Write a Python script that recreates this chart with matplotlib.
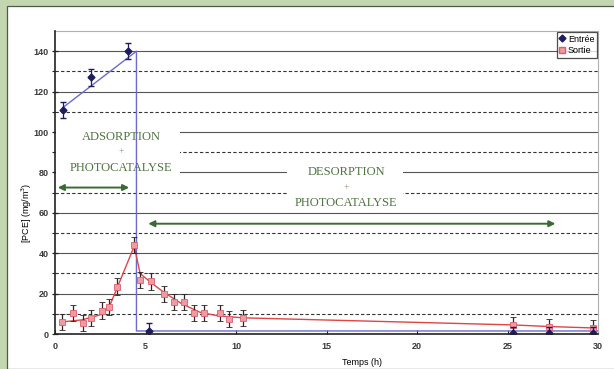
import numpy as np
import matplotlib.pyplot as plt
from matplotlib.patches import Rectangle
from matplotlib.lines import Line2D

# data
entree_t = [0.42, 1.97, 4.05, 5.2, 25.3, 27.3, 29.7]
entree_v = [111, 127, 140, 1.5, 0.5, 0.5, 0.5]
entree_err = [4, 4, 4, 4, 3, 3, 3]

# trend line for the inlet (linear rise, then drop after adsorption phase)
entree_line_t = [0.42, 4.5, 4.5, 30]
entree_line_v = [112, 140, 1.5, 1.5]

sortie_t = [0.40, 1.01, 1.53, 1.99, 2.58, 2.98, 3.44, 4.38, 4.70, 5.29, 6.04,
            6.59, 7.14, 7.68, 8.25, 9.12, 9.63, 10.4, 25.3, 27.3, 29.7]
sortie_v = [6.1, 10.2, 5.6, 7.8, 11.6, 13.2, 23.5, 44.2, 26.8, 26.0, 19.9,
            16.0, 15.7, 10.2, 10.6, 10.2, 7.3, 7.8, 4.5, 3.6, 3.1]
sortie_err = [4] * len(sortie_t)

sortie_fit_t = [0.40, 1.5, 2.5, 3.0, 3.44, 4.38, 4.70, 5.29, 6.04, 7.0, 8.0,
                9.0, 10.4, 25.3, 27.3, 29.7]
sortie_fit_v = [6.0, 7.0, 9.5, 13.5, 23.0, 43.5, 30.0, 25.5, 20.5, 15.0,
                10.8, 9.0, 8.0, 4.5, 3.7, 3.0]

green = '#4f7440'
arrow_green = '#3b6b35'

fig = plt.figure(figsize=(6.14, 3.69), dpi=100)
fig.patch.set_facecolor('#c3d6b0')
fig.patches.append(Rectangle((7 / 614, 0), 1, 1 - 6 / 369, transform=fig.transFigure,
                             facecolor='white', edgecolor='#4d5a45', lw=0.9, zorder=-5))

ax = fig.add_axes([55 / 614, 1 - 334 / 369, 543 / 614, 303 / 369])
ax.set_facecolor('none')
ax.set_xlim(0, 30)
ax.set_ylim(0, 150)

# grid: solid on 20s, dashed on 10s
for v in range(20, 141, 20):
    ax.axhline(v, color='#555555', lw=0.8, zorder=1)
for v in range(10, 131, 20):
    ax.axhline(v, color='#333333', lw=0.8, ls=(0, (3, 2)), zorder=1)

# inlet
ax.plot(entree_line_t, entree_line_v, color='#6b6bd0', lw=1.0, zorder=3)
ax.errorbar(entree_t, entree_v, yerr=entree_err, fmt='D', ms=3.5, color='#1d1d5e',
            ecolor='#1d1d5e', elinewidth=0.9, capsize=2.2, zorder=6)

# outlet
ax.plot(sortie_fit_t, sortie_fit_v, color='#e04545', lw=1.0, zorder=4)
ax.errorbar(sortie_t, sortie_v, yerr=sortie_err, fmt='s', ms=5, mfc='#f29aa2',
            mec='#d9606c', mew=0.6, ecolor='#2e2222', elinewidth=0.9, capsize=2.2,
            zorder=5)

# phase labels with white boxes masking the grid
ax.add_patch(Rectangle((0.05, 77.5), 6.85, 25, facecolor='white', edgecolor='none', zorder=2.5))
ax.add_patch(Rectangle((12.8, 62), 6.4, 25, facecolor='white', edgecolor='none', zorder=2.5))

txt = dict(family='Liberation Serif', color=green, ha='center', va='center', zorder=7)
ax.text(3.65, 97.3, 'ADSORPTION', fontsize=9, **txt)
ax.text(3.65, 90.2, '+', fontsize=7, alpha=0.7, **txt)
ax.text(3.65, 82.4, 'PHOTOCATALYSE', fontsize=9, **txt)
ax.text(16.1, 80, 'DESORPTION', fontsize=9, **txt)
ax.text(16.1, 72.6, '+', fontsize=7, alpha=0.7, **txt)
ax.text(16.1, 65, 'PHOTOCATALYSE', fontsize=9, **txt)

arrow = dict(arrowstyle='<|-|>', color=arrow_green, lw=1.4, mutation_scale=9)
ax.annotate('', xy=(4.25, 72.5), xytext=(0, 72.5), arrowprops=arrow, zorder=7)
ax.annotate('', xy=(27.8, 54.6), xytext=(5.0, 54.6), arrowprops=arrow, zorder=7)

# axes styling
for s in ['top', 'right']:
    ax.spines[s].set_color('#b0b0b0')
    ax.spines[s].set_linewidth(0.8)
for s in ['left', 'bottom']:
    ax.spines[s].set_color('#222222')
    ax.spines[s].set_linewidth(1.2)
    ax.spines[s].set_zorder(8)

ax.set_yticks(range(0, 141, 20))
ax.set_yticks(range(10, 131, 20), minor=True)
ax.set_xticks(range(0, 31, 5))
ax.tick_params(axis='y', which='major', direction='inout', length=5, width=0.9,
               labelsize=6.5, pad=2, colors='#222222')
ax.tick_params(axis='y', which='minor', direction='out', length=2.5, width=0.8,
               colors='#222222')
ax.tick_params(axis='x', which='major', direction='in', length=3, width=0.8,
               labelsize=6.5, pad=6, colors='#222222')
for lab in ax.get_xticklabels() + ax.get_yticklabels():
    lab.set_fontweight('bold')
    lab.set_family('Liberation Sans')
    lab.set_color('#3a3a3a')

ax.set_xlabel('Temps (h)', fontsize=6.5, family='Liberation Sans')
ax.xaxis.set_label_coords(0.565, -0.078)
ax.set_ylabel('[PCE] (mg/m$^3$)', fontsize=6.5, family='Liberation Sans')
ax.yaxis.set_label_coords(-0.038, 0.40)

handles = [Line2D([], [], marker='D', ls='none', ms=3.5, color='#1d1d5e'),
           Line2D([], [], marker='s', ls='none', ms=5, mfc='#f29aa2', mec='#d9606c')]
leg = ax.legend(handles, ['Entrée', 'Sortie'], loc='upper right', borderaxespad=0.1,
                frameon=True, fancybox=False, handlelength=0.6,
                handletextpad=0.3, borderpad=0.3, labelspacing=0.3,
                prop={'family': 'Liberation Sans', 'size': 6.5})
leg.get_frame().set_edgecolor('#222222')
leg.get_frame().set_linewidth(0.9)
leg.set_zorder(9)

fig.savefig('out.png', dpi=100, facecolor=fig.get_facecolor())
